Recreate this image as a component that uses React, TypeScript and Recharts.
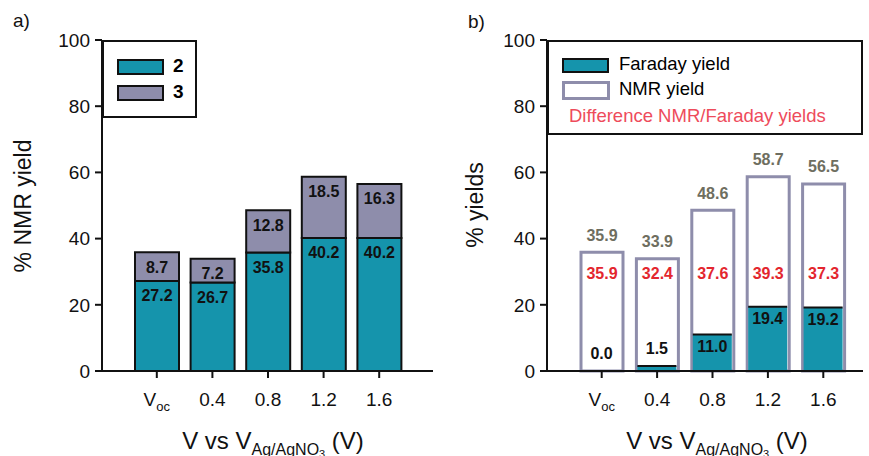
import { BarChart, Bar, XAxis, YAxis, Legend, LabelList } from 'recharts';

const categories = ['Voc', '0.4', '0.8', '1.2', '1.6'];
const yield2 = [27.2, 26.7, 35.8, 40.2, 40.2];
const yield3 = [8.7, 7.2, 12.8, 18.5, 16.3];
const faradayYield = [0.0, 1.5, 11.0, 19.4, 19.2];
const nmrYield = [35.9, 33.9, 48.6, 58.7, 56.5];
const diffYield = [35.9, 32.4, 37.6, 39.3, 37.3];
const yTicks = [0, 20, 40, 60, 80, 100];

const FONT = '"Liberation Sans", Arial, sans-serif';
const TEAL = '#1594ac';
const PURPLE = '#8e8dab';
const INK = '#111';
const RED_VAL = '#e3262e';
const RED_LEG = '#ee4b5b';
const GREY_VAL = '#6e6e60';
// red difference labels all sit at the same height in the original
const DIFF_LABEL_LEVEL = 29.6;

const leftData = categories.map((cat, i) => ({ cat, y2: yield2[i], y3: yield3[i] }));
const rightData = categories.map((cat, i) => ({
  cat, faraday: faradayYield[i], nmr: nmrYield[i], diff: diffYield[i],
}));

const tickStyle = { fill: INK, fontSize: 19, fontFamily: FONT };

const boxOf = (p: any) => {
  const vb = p.viewBox || {};
  return { x: p.x ?? vb.x, y: p.y ?? vb.y, w: p.width ?? vb.width, h: p.height ?? vb.height };
};

const XTick = (props: any) => {
  const { x, y, payload } = props;
  const v = payload.value;
  return (
    <text x={x} y={y + 26} textAnchor="middle" fontSize={19} fontFamily={FONT} fill={INK}>
      {v === 'Voc' ? (<>V<tspan fontSize={13} dy={5}>oc</tspan></>) : v}
    </text>
  );
};

const valueText = (x: number, y: number, value: number, color: string) => (
  <text x={x} y={y} textAnchor="middle" dominantBaseline="central" fontSize={16}
    fontWeight="bold" fontFamily={FONT} fill={color}>
    {Number(value).toFixed(1)}
  </text>
);

const insideTopLabel = (p: any) => {
  const b = boxOf(p);
  return valueText(b.x + b.w / 2, b.y + 15, p.value, INK);
};

const aboveLabel = (p: any) => {
  const b = boxOf(p);
  return valueText(b.x + b.w / 2, b.y - 17, p.value, GREY_VAL);
};

const diffLabel = (p: any) => {
  const b = boxOf(p);
  const base = b.y + b.h;
  const ppu = b.h / nmrYield[p.index];
  return valueText(b.x + b.w / 2, base - DIFF_LABEL_LEVEL * ppu, p.value, RED_VAL);
};

const faradayLabel = (p: any) => {
  const b = boxOf(p);
  const yy = p.value >= 5 ? b.y + 12 : b.y - 18;
  return valueText(b.x + b.w / 2, yy, p.value, INK);
};

const FaradayShape = (p: any) => {
  if (!p.height || p.height <= 0) return <g />;
  return (
    <g>
      <rect x={p.x} y={p.y} width={p.width} height={p.height} fill={TEAL} />
      <line x1={p.x} x2={p.x + p.width} y1={p.y} y2={p.y} stroke={INK} strokeWidth={2} />
    </g>
  );
};

const swatch = (top: number, fill: string, stroke: string, sw: number, h: number) => (
  <div style={{
    position: 'absolute', left: 13, top, width: 45 - sw, height: h - sw,
    background: fill, border: `${sw}px solid ${stroke}`, boxSizing: 'content-box',
  }} />
);

const LeftLegend = () => (
  <div style={{ position: 'relative', width: 95, height: 78, border: `2px solid ${INK}`, boxSizing: 'border-box', background: '#fff', fontFamily: FONT }}>
    {swatch(17, TEAL, INK, 2, 14)}
    {swatch(43, PURPLE, INK, 2, 14)}
    <span style={{ position: 'absolute', left: 69, top: 13, fontSize: 19, fontWeight: 'bold' }}>2</span>
    <span style={{ position: 'absolute', left: 69, top: 39, fontSize: 19, fontWeight: 'bold' }}>3</span>
  </div>
);

const RightLegend = () => (
  <div style={{ position: 'relative', width: 316, height: 95, border: `2px solid ${INK}`, boxSizing: 'border-box', background: '#fff', fontFamily: FONT }}>
    {swatch(16, TEAL, INK, 2, 13)}
    {swatch(39, '#fff', PURPLE, 3, 16)}
    <span style={{ position: 'absolute', left: 70, top: 11, fontSize: 18.5 }}>Faraday yield</span>
    <span style={{ position: 'absolute', left: 70, top: 36, fontSize: 18.5 }}>NMR yield</span>
    <span style={{ position: 'absolute', left: 20, top: 63, fontSize: 18.5, color: RED_LEG }}>Difference NMR/Faraday yields</span>
  </div>
);

const axisLine = { stroke: INK, strokeWidth: 2 };

export default function App() {
  return (
    <div style={{ position: 'absolute', left: 0, top: 0, width: 869, height: 456, background: '#fff', overflow: 'hidden' }}>
      <div style={{ position: 'absolute', left: 0, top: 0 }}>
        <BarChart width={440} height={456} data={leftData} margin={{ top: 40, right: 7, bottom: 55, left: 42 }}>
          <XAxis dataKey="cat" tick={<XTick />} tickSize={7} axisLine={axisLine} tickLine={axisLine}
            padding={{ left: 27, right: 26 }} height={30} interval={0} />
          <XAxis xAxisId="top" orientation="top" dataKey="cat" tick={false} tickLine={false} axisLine={axisLine} height={0} />
          <YAxis domain={[0, 100]} ticks={yTicks} interval={0} width={60} tick={tickStyle} tickSize={7}
            tickMargin={5} axisLine={axisLine} tickLine={axisLine} />
          <YAxis yAxisId="right" orientation="right" domain={[0, 100]} tick={false} tickLine={false} axisLine={axisLine} width={0} />
          <Legend layout="horizontal" verticalAlign="middle" align="center" content={<LeftLegend />}
            wrapperStyle={{ left: 102, top: 40, width: 95, height: 78 }} />
          <Bar dataKey="y2" stackId="a" fill={TEAL} stroke={INK} strokeWidth={2} barSize={44} isAnimationActive={false}>
            <LabelList dataKey="y2" content={insideTopLabel} />
          </Bar>
          <Bar dataKey="y3" stackId="a" fill={PURPLE} stroke={INK} strokeWidth={2} barSize={44} isAnimationActive={false}>
            <LabelList dataKey="y3" content={insideTopLabel} />
          </Bar>
        </BarChart>
      </div>
      <div style={{ position: 'absolute', left: 430, top: 0 }}>
        <BarChart width={439} height={456} data={rightData} margin={{ top: 40, right: 6, bottom: 55, left: 57 }}>
          <XAxis dataKey="cat" tick={<XTick />} tickSize={7} axisLine={axisLine} tickLine={axisLine}
            padding={{ left: 27, right: 12 }} height={30} interval={0} />
          <XAxis xAxisId="far" dataKey="cat" hide padding={{ left: 27, right: 12 }} />
          <XAxis xAxisId="top" orientation="top" dataKey="cat" tick={false} tickLine={false} axisLine={axisLine} height={0} />
          <YAxis domain={[0, 100]} ticks={yTicks} interval={0} width={60} tick={tickStyle} tickSize={7}
            tickMargin={5} axisLine={axisLine} tickLine={axisLine} />
          <YAxis yAxisId="right" orientation="right" domain={[0, 100]} tick={false} tickLine={false} axisLine={axisLine} width={0} />
          <Legend layout="horizontal" verticalAlign="middle" align="center" content={<RightLegend />}
            wrapperStyle={{ left: 117, top: 40, width: 316, height: 95 }} />
          <Bar dataKey="nmr" fill="#fff" stroke={PURPLE} strokeWidth={3} barSize={42} isAnimationActive={false}>
            <LabelList dataKey="nmr" content={aboveLabel} />
            <LabelList dataKey="diff" content={diffLabel} />
          </Bar>
          <Bar dataKey="faraday" xAxisId="far" fill={TEAL} barSize={39} shape={<FaradayShape />} isAnimationActive={false}>
            <LabelList dataKey="faraday" content={faradayLabel} />
          </Bar>
        </BarChart>
      </div>
      <svg width={869} height={456} style={{ position: 'absolute', left: 0, top: 0, pointerEvents: 'none' }}
        fontFamily={FONT} fill={INK}>
        <text x={13} y={27} fontSize={19}>a)</text>
        <text x={468} y={28} fontSize={19}>b)</text>
        <text transform="translate(31 206) rotate(-90)" textAnchor="middle" fontSize={23}>% NMR yield</text>
        <text transform="translate(483 205) rotate(-90)" textAnchor="middle" fontSize={23}>% yields</text>
        <text x={273} y={449} textAnchor="middle" fontSize={24}>
          V vs V<tspan fontSize={16} dy={6}>Ag/AgNO</tspan><tspan fontSize={11} dy={3}>3</tspan><tspan dy={-9}> (V)</tspan>
        </text>
        <text x={717} y={449} textAnchor="middle" fontSize={24}>
          V vs V<tspan fontSize={16} dy={6}>Ag/AgNO</tspan><tspan fontSize={11} dy={3}>3</tspan><tspan dy={-9}> (V)</tspan>
        </text>
      </svg>
    </div>
  );
}
